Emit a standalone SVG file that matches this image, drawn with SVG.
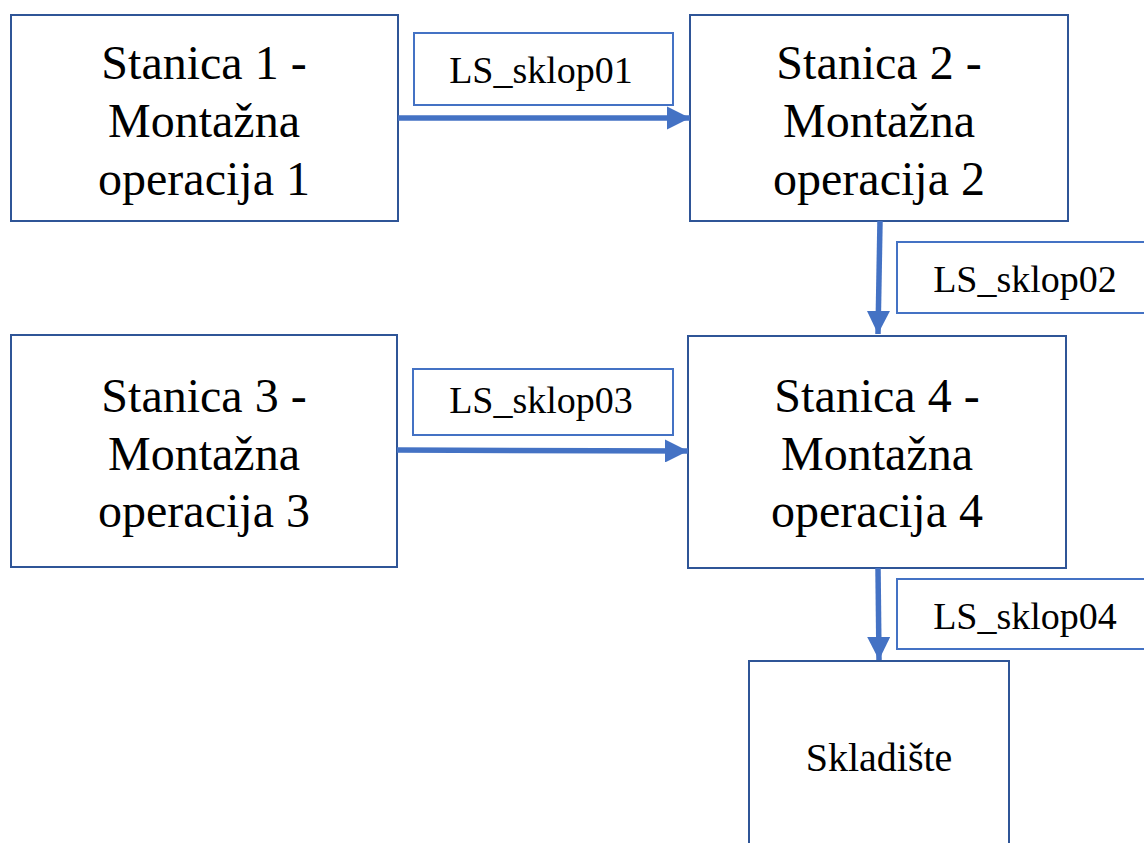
<svg xmlns="http://www.w3.org/2000/svg" width="1144" height="843" viewBox="0 0 1144 843">
<style>
.node{fill:#fff;stroke:#2F5597;stroke-width:2}
.lbl{fill:#fff;stroke:#4472C4;stroke-width:2}
.t{font-family:'Liberation Serif','DejaVu Serif',serif;font-size:48px;fill:#000;text-anchor:middle}
.ts{font-family:'Liberation Serif','DejaVu Serif',serif;font-size:38px;fill:#000;text-anchor:middle}
.c{stroke:#4472C4;stroke-width:5.5;fill:none}
</style>
<defs>
<marker id="ah" viewBox="0 0 10 10" refX="10" refY="5" markerWidth="4.2" markerHeight="4.2" markerUnits="strokeWidth" orient="auto">
<path d="M0,0 L10,5 L0,10 Z" fill="#4472C4"/>
</marker>
</defs>
<rect width="1144" height="843" fill="#fff"/>
<g id="n1">
<rect class="node" x="11" y="15" width="387" height="206"/>
<text class="t" x="204" y="79">Stanica 1 -</text>
<text class="t" x="204" y="137">Montažna</text>
<text class="t" x="204" y="195">operacija 1</text>
</g>
<g id="n2">
<rect class="node" x="690" y="15" width="378" height="206"/>
<text class="t" x="879" y="79">Stanica 2 -</text>
<text class="t" x="879" y="137">Montažna</text>
<text class="t" x="879" y="195">operacija 2</text>
</g>
<g id="n3">
<rect class="node" x="11" y="335" width="386" height="232"/>
<text class="t" x="204" y="412">Stanica 3 -</text>
<text class="t" x="204" y="470">Montažna</text>
<text class="t" x="204" y="527">operacija 3</text>
</g>
<g id="n4">
<rect class="node" x="688" y="336" width="378" height="232"/>
<text class="t" x="877" y="412">Stanica 4 -</text>
<text class="t" x="877" y="470">Montažna</text>
<text class="t" x="877" y="527">operacija 4</text>
</g>
<g id="n5">
<rect class="node" x="749" y="661" width="260" height="200"/>
<text class="t" x="879" y="771" style="font-size:40px">Skladište</text>
</g>
<g id="connectors">
<line class="c" x1="398" y1="118" x2="690" y2="118" marker-end="url(#ah)"/>
<line class="c" x1="880" y1="221" x2="878" y2="334" marker-end="url(#ah)"/>
<line class="c" x1="397" y1="450" x2="688" y2="451" marker-end="url(#ah)"/>
<line class="c" x1="878" y1="568" x2="879" y2="660" marker-end="url(#ah)"/>
</g>
<g id="l1">
<rect class="lbl" x="414" y="33" width="259" height="72"/>
<text class="ts" x="541" y="83">LS_sklop01</text>
</g>
<g id="l2">
<rect class="lbl" x="897" y="242" width="260" height="71"/>
<text class="ts" x="1025" y="292">LS_sklop02</text>
</g>
<g id="l3">
<rect class="lbl" x="413" y="369" width="260" height="66"/>
<text class="ts" x="541" y="413">LS_sklop03</text>
</g>
<g id="l4">
<rect class="lbl" x="897" y="579" width="260" height="70"/>
<text class="ts" x="1025" y="629">LS_sklop04</text>
</g>
</svg>
